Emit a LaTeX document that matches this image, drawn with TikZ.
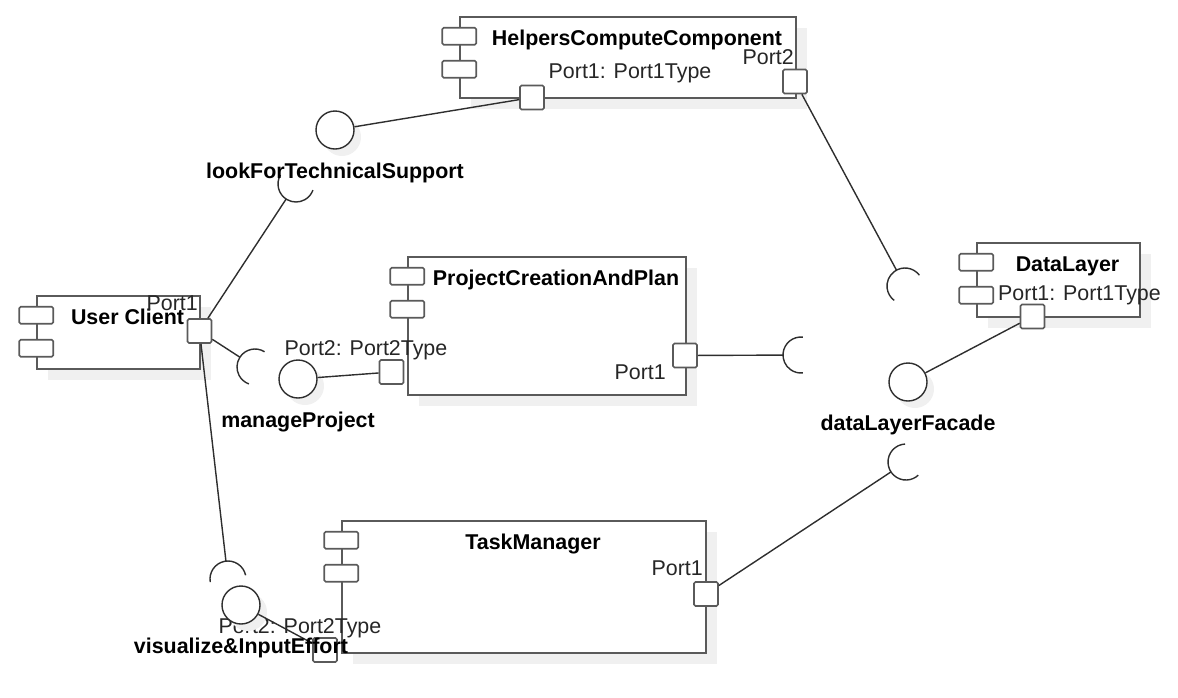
\documentclass[tikz,border=0pt]{standalone}
\usepackage{fontspec}
\setmainfont{Liberation Sans}
\usetikzlibrary{calc,shadows}

\definecolor{edgegray}{HTML}{5A5A5A}
\definecolor{wiregray}{HTML}{2E2E2E}
\definecolor{shadegray}{HTML}{F0F0F0}
\definecolor{textgray}{HTML}{262626}

\newcommand{\diagfont}{\fontsize{21.4}{26}\selectfont}

\tikzset{
  component/.style={draw=edgegray, line width=1.6pt, fill=white, inner sep=0pt,
    drop shadow={shadow xshift=11pt, shadow yshift=-11pt, fill=shadegray, opacity=1}},
  tab/.style={draw=edgegray, line width=1.6pt, fill=white, rounded corners=1.5pt,
    minimum width=34pt, minimum height=17pt, inner sep=0pt},
  port/.style={draw=edgegray, line width=1.6pt, fill=white, rounded corners=1.5pt,
    minimum size=24pt, inner sep=0pt},
  lollipop/.style={circle, draw=wiregray, line width=1.4pt, fill=white, minimum size=38pt, inner sep=0pt,
    drop shadow={shadow xshift=7pt, shadow yshift=-7pt, fill=shadegray, opacity=1}},
  wire/.style={draw=wiregray, line width=1.4pt},
  title/.style={font=\diagfont\bfseries, text=black, inner sep=0pt, text height=15pt, text depth=4.5pt},
  portlabel/.style={font=\diagfont, text=textgray, inner sep=0pt, text height=15pt, text depth=4.5pt}
}

\begin{document}
\begin{tikzpicture}[x=1pt, y=1pt]

\useasboundingbox (0,0) rectangle (1178,-697);

\node[component, minimum width=336pt, minimum height=81pt] (helpers) at (628,-57.5) {};
\node[component, minimum width=163pt, minimum height=73pt] (client) at (118.5,-332.5) {};
\node[component, minimum width=278pt, minimum height=138pt] (project) at (547,-326) {};
\node[component, minimum width=163pt, minimum height=74pt] (datalayer) at (1058.5,-280) {};
\node[component, minimum width=364pt, minimum height=132pt] (taskman) at (524,-587) {};

\node[tab] (helpers-t1) at ($(helpers.north west)+(0,-20)$) {};
\node[tab] (helpers-t2) at ($(helpers.north west)+(0,-53)$) {};
\node[tab] (client-t1) at ($(client.north west)+(0,-20)$) {};
\node[tab] (client-t2) at ($(client.north west)+(0,-53)$) {};
\node[tab] (project-t1) at ($(project.north west)+(0,-20)$) {};
\node[tab] (project-t2) at ($(project.north west)+(0,-53)$) {};
\node[tab] (datalayer-t1) at ($(datalayer.north west)+(0,-20)$) {};
\node[tab] (datalayer-t2) at ($(datalayer.north west)+(0,-53)$) {};
\node[tab] (taskman-t1) at ($(taskman.north west)+(0,-20)$) {};
\node[tab] (taskman-t2) at ($(taskman.north west)+(0,-53)$) {};

\node[title] (helpers-name) at ($(helpers.north)+(9,-24)$) {HelpersComputeComponent};
\node[title] (client-name) at ($(client.north)+(9,-24)$) {User Client};
\node[title] (project-name) at ($(project.north)+(9,-24)$) {ProjectCreationAndPlan};
\node[title] (datalayer-name) at ($(datalayer.north)+(9,-24)$) {DataLayer};
\node[title] (taskman-name) at ($(taskman.north)+(9,-24)$) {TaskManager};

\node[port] (helpers-p1) at (532,-97.5) {};
\node[port] (helpers-p2) at (795,-81.5) {};
\node[port] (client-p1) at (199.5,-331) {};
\node[port] (project-p2) at (391.5,-372) {};
\node[port] (project-p1) at (685,-355.5) {};
\node[port] (datalayer-p1) at (1032.5,-316.5) {};
\node[port] (taskman-p1) at (706,-594) {};
\node[port] (taskman-p2) at (325,-650) {};

\node[portlabel] (helpers-p1-lbl) at (630,-73) {Port1: Port1Type};
\node[portlabel, anchor=east] (helpers-p2-lbl) at (794,-59) {Port2};
\node[portlabel, anchor=east] (client-p1-lbl) at (198,-305) {Port1};
\node[portlabel] (project-p2-lbl) at (366,-350) {Port2: Port2Type};
\node[portlabel, anchor=east] (project-p1-lbl) at (666,-374) {Port1};
\node[portlabel, anchor=west] (datalayer-p1-lbl) at (998,-295) {Port1: Port1Type};
\node[portlabel, anchor=east] (taskman-p1-lbl) at (703,-570) {Port1};
\node[portlabel] (taskman-p2-lbl) at (300,-628) {Port2: Port2Type};

\node[lollipop] (support) at (335,-130) {};
\node[lollipop] (manage) at (298,-379) {};
\node[lollipop] (effort) at (241,-605) {};
\node[lollipop] (facade) at (908,-382) {};

\coordinate (support-s) at (296,-184);
\coordinate (manage-s) at (255,-367);
\coordinate (effort-s) at (228,-579);
\coordinate (facade-s1) at (905,-286);
\coordinate (facade-s2) at (801,-355);
\coordinate (facade-s3) at (906,-462);

\draw[wire] (helpers-p1) -- (support);
\draw[wire] (project-p2) -- (manage);
\draw[wire] (taskman-p2) -- (effort);
\draw[wire] (datalayer-p1) -- (facade);

\draw[wire] (client-p1) -- ($(support-s)!18pt!(client-p1)$);
\draw[wire] (client-p1) -- ($(manage-s)!18pt!(client-p1)$);
\draw[wire] (client-p1) -- ($(effort-s)!18pt!(client-p1)$);
\draw[wire] (helpers-p2) -- ($(facade-s1)!18pt!(helpers-p2)$);
\draw[wire] (project-p1) -- ($(facade-s2)!18pt!(project-p1)$);
\draw[wire] (taskman-p1) -- ($(facade-s3)!18pt!(taskman-p1)$);

\draw[wire] ($(support-s)+(150:18)$) arc[start angle=150, end angle=340, radius=18];
\draw[wire] ($(manage-s)+(58:18)$) arc[start angle=58, end angle=250, radius=18];
\draw[wire] ($(effort-s)+(12:18)$) arc[start angle=12, end angle=190, radius=18];
\draw[wire] ($(facade-s1)+(37:18)$) arc[start angle=37, end angle=233, radius=18];
\draw[wire] ($(facade-s2)+(84:18)$) arc[start angle=84, end angle=276, radius=18];
\draw[wire] ($(facade-s3)+(93:18)$) arc[start angle=93, end angle=313, radius=18];

\node[title] (support-name) at ($(support)+(0,-43)$) {lookForTechnicalSupport};
\node[title] (manage-name) at ($(manage)+(0,-43)$) {manageProject};
\node[title] (effort-name) at ($(effort)+(0,-43)$) {visualize\&InputEffort};
\node[title] (facade-name) at ($(facade)+(0,-43)$) {dataLayerFacade};

\end{tikzpicture}
\end{document}
